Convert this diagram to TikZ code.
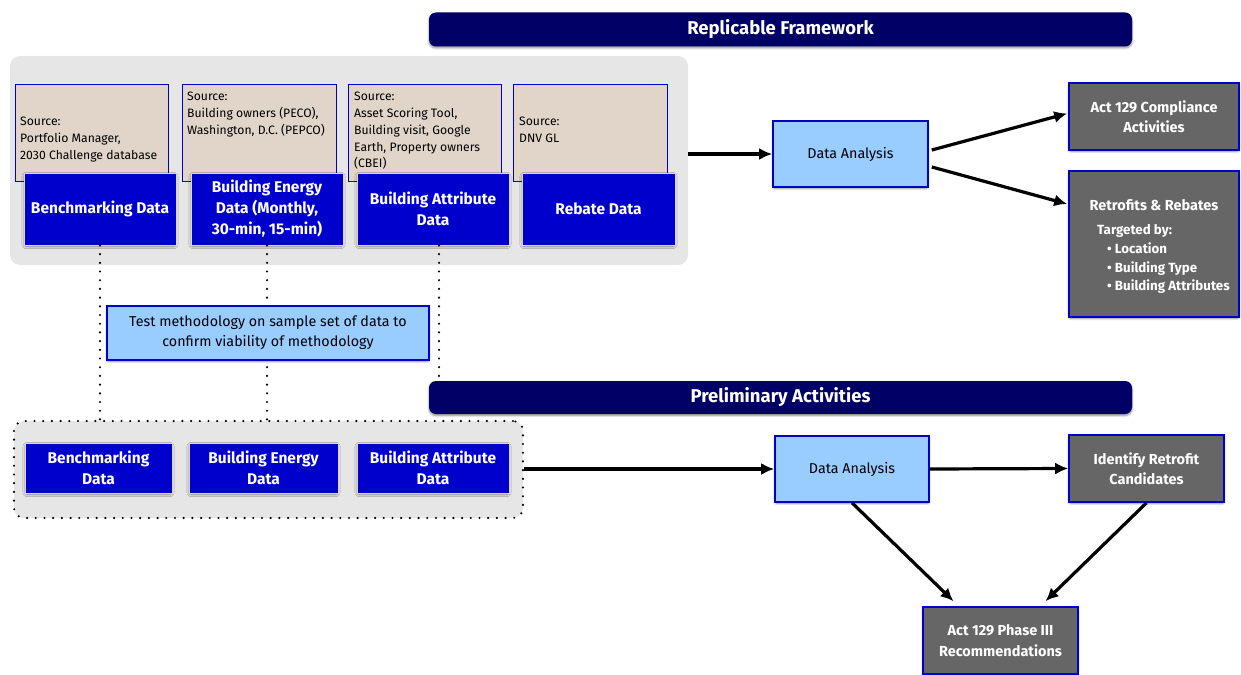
\documentclass[tikz,border=0pt]{standalone}
\usepackage{fontspec}
\setmainfont{Fira Sans}
\usetikzlibrary{arrows.meta,calc,shadows.blur}
\definecolor{navy}{HTML}{000066}
\definecolor{panelgray}{HTML}{E6E6E6}
\definecolor{tan}{HTML}{E0D5C8}
\definecolor{dblue}{HTML}{0000CC}
\definecolor{lblue}{HTML}{99CCFF}
\definecolor{dgray}{HTML}{666666}
\tikzset{
  shad/.style={blur shadow={shadow blur steps=6, shadow xshift=0pt, shadow yshift=-1.5pt, shadow opacity=45, shadow blur extra rounding=2pt}},
  banner/.style={shad, fill=navy, rounded corners=7pt, inner sep=0pt, text=white, font=\fontsize{18.5}{22}\selectfont\bfseries},
  srcbox/.style={fill=tan, draw=dblue, line width=0.8pt, inner sep=0pt},
  srctext/.style={inner sep=0pt, align=left, anchor=north west, font=\fontsize{12.2}{16.8}\selectfont},
  bluebox/.style={shad, fill=dblue, draw=tan, line width=0.8pt, inner sep=0pt, text=white, align=center, font=\fontsize{15.5}{21}\selectfont\bfseries},
  lbbox/.style={shad, fill=lblue, draw=dblue, line width=1.6pt, inner sep=0pt, align=center, font=\fontsize{14.3}{20}\selectfont},
  gbox/.style={shad, fill=dgray, draw=dblue, line width=1.6pt, inner sep=0pt, text=white, align=center, font=\fontsize{14.5}{20.5}\selectfont\bfseries},
  arr/.style={line width=3.2pt, -{Latex[length=13pt,width=12pt]}},
  dots/.style={line width=2.4pt, line cap=round, dash pattern=on 0pt off 8.7pt},
}
\begin{document}
\begin{tikzpicture}[x=1pt,y=-1pt]
\useasboundingbox (0,0) rectangle (1241,674);
% top banner
\node[banner, minimum width=703pt, minimum height=34pt] (rf) at (780.5,29.5) {Replicable Framework};
% panel
\node[fill=panelgray, rounded corners=10pt, minimum width=678pt, minimum height=209pt, inner sep=0pt] (panel) at (349,160.5) {};
% source boxes
\node[srcbox, minimum width=153pt, minimum height=97pt] (s1) at (91.5,132.5) {};
\node[srcbox, minimum width=154pt, minimum height=97pt] (s2) at (259,132.5) {};
\node[srcbox, minimum width=153pt, minimum height=97pt] (s3) at (424.5,132.5) {};
\node[srcbox, minimum width=154pt, minimum height=97pt] (s4) at (590,132.5) {};
\node[srctext] (s1t) at (20,117) {Source:\\Portfolio Manager,\\2030 Challenge database};
\node[srctext] (s2t) at (187,92) {Source:\\Building owners (PECO),\\Washington, D.C. (PEPCO)};
\node[srctext] (s3t) at (354,92) {Source:\\Asset Scoring Tool,\\Building visit, Google\\Earth, Property owners\\(CBEI)};
\node[srctext] (s4t) at (519,117) {Source:\\DNV GL};
% blue data boxes
\node[bluebox, minimum width=152pt, minimum height=72pt] (b1) at (100,209) {Benchmarking Data};
\node[bluebox, minimum width=152pt, minimum height=72pt] (b2) at (267,209) {Building Energy\\Data (Monthly,\\30-min, 15-min)};
\node[bluebox, minimum width=152pt, minimum height=72pt] (b3) at (433,209) {Building Attribute\\Data};
\node[bluebox, minimum width=153pt, minimum height=72pt] (b4) at (598.5,209) {Rebate Data};
% preliminary banner
\node[banner, minimum width=703pt, minimum height=33pt] (pa) at (780.5,397.5) {Preliminary Activities};
% preliminary dotted box
\node[fill=panelgray, draw=black, dots, rounded corners=10pt, minimum width=509pt, minimum height=97pt, inner sep=0pt] (pbox) at (268.5,469.5) {};
% dotted connectors
\coordinate (d1e) at (b1.south |- pbox.north);
\coordinate (d2e) at (b2.south |- pbox.north);
\coordinate (d3s) at ($(b3.south)+(6,0)$);
\coordinate (d3e) at ($(d3s)+(0,132)$);
\draw[dots] (b1.south) -- (d1e);
\draw[dots] (b2.south) -- (d2e);
\draw[dots] (d3s) -- (d3e);
% test box
\node[lbbox, minimum width=322pt, minimum height=54pt] (test) at (268,333) {Test methodology on sample set of data to\\confirm viability of methodology};
% bottom blue boxes
\node[bluebox, minimum width=147pt, minimum height=50pt] (c1) at (98.5,468) {Benchmarking\\Data};
\node[bluebox, minimum width=149pt, minimum height=50pt] (c2) at (263.5,468) {Building Energy\\Data};
\node[bluebox, minimum width=152pt, minimum height=50pt] (c3) at (433,468) {Building Attribute\\Data};
% top flow
\node[lbbox, minimum width=155pt, minimum height=66pt] (da1) at (850.5,154) {Data Analysis};
\node[gbox, minimum width=170pt, minimum height=67pt] (act) at (1154,116.5) {Act 129 Compliance\\Activities};
\node[gbox, minimum width=170pt, minimum height=146pt] (ret) at (1154,244) {};
\node[inner sep=0pt, text=white, font=\fontsize{14.5}{20}\selectfont\bfseries] (rett) at (1154,205) {Retrofits \& Rebates};
\node[inner sep=0pt, text=white, anchor=north west, align=left, font=\fontsize{13.3}{18.9}\selectfont\bfseries] (retl) at (1097,224) {Targeted by:\\\hspace*{10pt}\textbullet\ Location\\\hspace*{10pt}\textbullet\ Building Type\\\hspace*{10pt}\textbullet\ Building Attributes};
\draw[arr] (panel.east |- da1.west) -- (da1.west);
\draw[arr] ($(da1.east)+(3,-4)$) -- ($(act.west)+(-1,-3)$);
\draw[arr] ($(da1.east)+(3,13)$) -- ($(ret.west)+(-1,-40)$);
% bottom flow
\node[lbbox, minimum width=154pt, minimum height=66pt] (da2) at (852,469) {Data Analysis};
\node[gbox, minimum width=155pt, minimum height=67pt] (idr) at (1146.5,468.5) {Identify Retrofit\\Candidates};
\node[gbox, minimum width=155pt, minimum height=67pt] (p3) at (1000.5,640.5) {Act 129 Phase III\\Recommendations};
\draw[arr] (pbox.east |- da2.west) -- (da2.west);
\draw[arr] (da2.east) -- (idr.west);
\draw[arr] (da2.south) -- ($(p3.north)+(-47,-5)$);
\draw[arr] (idr.south) -- ($(p3.north)+(45,-5)$);
\end{tikzpicture}
\end{document}
